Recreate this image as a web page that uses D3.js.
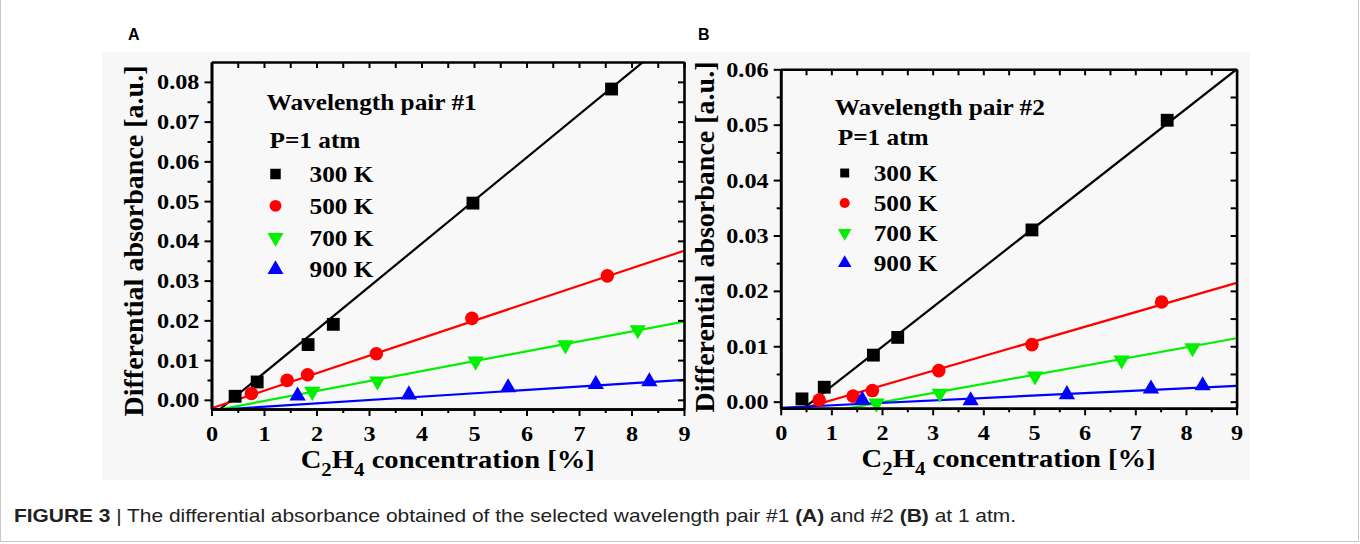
<!DOCTYPE html>
<html>
<head>
<meta charset="utf-8">
<script src="https://cdn.jsdelivr.net/npm/d3@7"></script>
<style>
  body { margin: 0; background: #fff; }
  svg { display: block; }
  .tick text { font-family: "Liberation Serif", "Times New Roman", serif; font-weight: bold; }
</style>
</head>
<body>
<div id="chart"></div>
<script>
"use strict";

// ---- data ----
var xTicks = [0, 1, 2, 3, 4, 5, 6, 7, 8, 9];
var xMinor = [0.5, 1.5, 2.5, 3.5, 4.5, 5.5, 6.5, 7.5, 8.5];
var yTicksA = [0, 0.01, 0.02, 0.03, 0.04, 0.05, 0.06, 0.07, 0.08];
var yMinorA = [0.005, 0.015, 0.025, 0.035, 0.045, 0.055, 0.065, 0.075];
var yTicksB = [0, 0.01, 0.02, 0.03, 0.04, 0.05, 0.06];
var yMinorB = [0.005, 0.015, 0.025, 0.035, 0.045, 0.055];
var seriesNames = ["300 K", "500 K", "700 K", "900 K"];

// panel A : wavelength pair #1
var concA300 = [0.45, 0.87, 1.84, 2.32, 4.98, 7.62];
var absA300  = [0.0009, 0.0045, 0.0139, 0.0190, 0.0495, 0.0782];
var concA500 = [0.76, 1.44, 1.83, 3.14, 4.96, 7.54];
var absA500  = [0.0016, 0.0049, 0.0063, 0.0116, 0.0205, 0.0312];
var concA700 = [1.92, 3.16, 5.03, 6.74, 8.12];
var absA700  = [0.0021, 0.0047, 0.0097, 0.0138, 0.0176];
var concA900 = [1.64, 3.76, 5.65, 7.32, 8.34];
var absA900  = [0.0010, 0.0013, 0.0031, 0.0039, 0.0046];
var fitSlopeA = [0.01084, 0.00440, 0.00250, 0.00085];
var fitInterA = [-0.0041, -0.0021, -0.0028, -0.0026];

// panel B : wavelength pair #2
var concB300 = [0.42, 0.86, 1.83, 2.31, 4.96, 7.63];
var absB300  = [0.0005, 0.0026, 0.0084, 0.0116, 0.0310, 0.0508];
var concB500 = [0.76, 1.43, 1.81, 3.12, 4.96, 7.52];
var absB500  = [0.0003, 0.0010, 0.0020, 0.0056, 0.0103, 0.0180];
var concB700 = [1.89, 3.14, 5.02, 6.73, 8.13];
var absB700  = [-0.0003, 0.0015, 0.0046, 0.0075, 0.0097];
var concB900 = [1.61, 3.75, 5.65, 7.31, 8.33];
var absB900  = [0.0003, 0.0002, 0.0013, 0.0023, 0.0029];
var fitSlopeB = [0.00716, 0.00265, 0.00165, 0.00044];
var fitInterB = [-0.00444, -0.0024, -0.0034, -0.0011];

var colors = ["#000000", "#ff0000", "#00f000", "#0000ff"];
var symbols = [d3.symbolSquare, d3.symbolCircle, d3.symbolTriangle, d3.symbolTriangle];
var markSize = [165, 145, 115, 115];
var rotations = [0, 0, 180, 0];
var serif = '"Liberation Serif", "Times New Roman", serif';
var sans = '"Liberation Sans", Arial, sans-serif';
var stretchX = 1.1;   // the scanned figure is a bit wider than tall

var width = 1360, height = 544;

var svg = d3.select("#chart")
    .append("svg")
    .attr("width", width)
    .attr("height", height);

// outer frame of the figure
svg.append("rect")
    .attr("x", 0.5).attr("y", -2)
    .attr("width", width - 2).attr("height", height - 0.5)
    .style("fill", "none")
    .style("stroke", "#c8c8c8")
    .style("stroke-width", 1);

// faint grey of the scanned image
svg.append("rect")
    .attr("x", 102).attr("y", 52)
    .attr("width", 1148).attr("height", 428)
    .style("fill", "#f7f7f7");

function zipSeries(xs, ys) {
    return xs.map(function(d, i){ return [d, ys[i]]; });
}

function placeText(sel, x, y) {
    return sel.attr("transform", "translate(" + x + "," + y + ") scale(" + stretchX + ",1)");
}

function draw_panel(p)
{
    var xScale = d3.scaleLinear().domain([0, 9]).range([p.left, p.right]);
    var yScale = d3.scaleLinear().domain(p.yDomain).range([p.bottom, p.top]);

    var g = svg.append("g").attr("class", "panel");

    g.append("rect")
        .attr("x", p.left).attr("y", p.top)
        .attr("width", p.right - p.left).attr("height", p.bottom - p.top)
        .style("fill", "#f8f8f8");

    g.append("clipPath").attr("id", p.id + "-clip")
        .append("rect")
        .attr("x", p.left).attr("y", p.top)
        .attr("width", p.right - p.left).attr("height", p.bottom - p.top);

    // fitted lines
    var line = d3.line()
        .x(function(d){ return xScale(d[0]); })
        .y(function(d){ return yScale(d[1]); });

    p.slopes.forEach(function(m, i){
        var b = p.inters[i];
        g.append("path")
            .attr("clip-path", "url(#" + p.id + "-clip)")
            .attr("d", line([[0, b], [9, b + 9 * m]]))
            .style("fill", "none")
            .style("stroke", colors[i])
            .style("stroke-width", 2.2);
    });

    // data points
    p.series.forEach(function(s, i){
        g.selectAll(".pt" + i)
            .data(s)
            .enter()
            .append("path")
            .attr("class", "pt" + i)
            .attr("d", d3.symbol().type(symbols[i]).size(markSize[i]))
            .attr("transform", function(d){
                return "translate(" + xScale(d[0]) + "," + yScale(d[1]) + ") rotate(" + rotations[i] + ")";
            })
            .style("fill", colors[i]);
    });

    // axes: bottom/left out, top/right in
    function styleAxis(sel) {
        sel.selectAll(".domain").style("stroke", "#000").style("stroke-width", 2.6);
        sel.selectAll(".tick line").style("stroke", "#000").style("stroke-width", 2);
    }

    var gx = g.append("g")
        .attr("transform", "translate(0," + p.bottom + ")")
        .call(d3.axisBottom(xScale).tickValues(xTicks).tickSize(7).tickSizeOuter(0).tickPadding(9));
    gx.selectAll("text").style("font-size", "22px").style("fill", "#000")
        .attr("transform", "scale(" + stretchX + ",1)");
    styleAxis(gx);
    g.append("g")
        .attr("transform", "translate(0," + p.bottom + ")")
        .call(d3.axisBottom(xScale).tickValues(xMinor).tickSize(4).tickSizeOuter(0).tickFormat(""))
        .call(styleAxis);

    var gxt = g.append("g")
        .attr("transform", "translate(0," + p.top + ")")
        .call(d3.axisTop(xScale).tickValues(xTicks.concat(xMinor)).tickSize(-6).tickSizeOuter(0).tickFormat(""));
    styleAxis(gxt);

    var gy = g.append("g")
        .attr("transform", "translate(" + p.left + ",0)")
        .call(d3.axisLeft(yScale).tickValues(p.yTicks).tickSize(7).tickSizeOuter(0).tickPadding(4).tickFormat(d3.format(".2f")));
    gy.selectAll("text").style("font-size", "22px").style("fill", "#000")
        .attr("transform", "scale(" + stretchX + ",1)");
    styleAxis(gy);
    g.append("g")
        .attr("transform", "translate(" + p.left + ",0)")
        .call(d3.axisLeft(yScale).tickValues(p.yMinor).tickSize(4).tickSizeOuter(0).tickFormat(""))
        .call(styleAxis);

    var gyr = g.append("g")
        .attr("transform", "translate(" + p.right + ",0)")
        .call(d3.axisRight(yScale).tickValues(p.yTicks.concat(p.yMinor)).tickSize(-6).tickSizeOuter(0).tickFormat(""));
    styleAxis(gyr);

    // axis titles
    var xt = g.append("text")
        .attr("text-anchor", "middle")
        .style("font-family", serif)
        .style("font-weight", "bold")
        .style("font-size", "26px");
    placeText(xt, (p.left + p.right) / 2, p.bottom + 59);
    xt.append("tspan").text("C");
    xt.append("tspan").text("2").attr("dy", 8).style("font-size", "19px");
    xt.append("tspan").text("H").attr("dy", -8);
    xt.append("tspan").text("4").attr("dy", 8).style("font-size", "19px");
    xt.append("tspan").text(" concentration [%]").attr("dy", -8);

    g.append("text")
        .attr("transform", "translate(" + p.yTitleX + "," + p.yTitleY + ") rotate(-90)")
        .attr("text-anchor", "middle")
        .style("font-family", serif)
        .style("font-weight", "bold")
        .style("font-size", "28px")
        .text("Differential absorbance [a.u.]");

    // panel letter
    g.append("text")
        .attr("x", p.letterX).attr("y", 40)
        .style("font-family", sans)
        .style("font-weight", "bold")
        .style("font-size", "16px")
        .text(p.letter);

    // legend
    var lg = g.append("g")
        .style("font-family", serif)
        .style("font-weight", "bold")
        .style("font-size", "23px");
    placeText(lg.append("text").text(p.title), p.left + p.legX, p.top + p.legY);
    placeText(lg.append("text").text("P=1 atm"), p.left + p.legX + 3, p.top + p.legY + p.legPY);
    seriesNames.forEach(function(name, i){
        var cy = p.top + p.legY + p.legRow0 + p.legStep * i;
        lg.append("path")
            .attr("d", d3.symbol().type(symbols[i]).size(p.legSize))
            .attr("transform", "translate(" + (p.left + p.legX + p.legMarkX) + "," + cy + ") rotate(" + rotations[i] + ")")
            .style("fill", colors[i]);
        placeText(lg.append("text").text(name), p.left + p.legX + p.legTextX, cy + 8);
    });
}

draw_panel({
    id: "pa", letter: "A", letterX: 128, title: "Wavelength pair #1",
    left: 211.5, right: 684, top: 62, bottom: 409,
    yDomain: [-0.0023, 0.085], yTicks: yTicksA, yMinor: yMinorA,
    series: [zipSeries(concA300, absA300), zipSeries(concA500, absA500),
             zipSeries(concA700, absA700), zipSeries(concA900, absA900)],
    slopes: fitSlopeA, inters: fitInterA,
    yTitleX: 143, yTitleY: 241,
    legX: 55, legY: 48, legPY: 38, legRow0: 64, legStep: 31.8,
    legMarkX: 9, legTextX: 43, legSize: 110
});

draw_panel({
    id: "pb", letter: "B", letterX: 698, title: "Wavelength pair #2",
    left: 780.7, right: 1236.6, top: 69.3, bottom: 408.3,
    yDomain: [-0.0012, 0.06], yTicks: yTicksB, yMinor: yMinorB,
    series: [zipSeries(concB300, absB300), zipSeries(concB500, absB500),
             zipSeries(concB700, absB700), zipSeries(concB900, absB900)],
    slopes: fitSlopeB, inters: fitInterB,
    yTitleX: 714, yTitleY: 237,
    legX: 54, legY: 45.7, legPY: 30, legRow0: 58, legStep: 30,
    legMarkX: 10, legTextX: 39, legSize: 80
});

// caption
var cap = svg.append("text")
    .attr("x", 14).attr("y", 522)
    .attr("textLength", 1002)
    .attr("lengthAdjust", "spacingAndGlyphs")
    .style("font-family", sans)
    .style("font-size", "19px")
    .style("fill", "#222");
cap.append("tspan").style("font-weight", "bold").text("FIGURE 3");
cap.append("tspan").text(" | The differential absorbance obtained of the selected wavelength pair #1 ");
cap.append("tspan").style("font-weight", "bold").text("(A)");
cap.append("tspan").text(" and #2 ");
cap.append("tspan").style("font-weight", "bold").text("(B)");
cap.append("tspan").text(" at 1 atm.");
</script>
</body>
</html>
